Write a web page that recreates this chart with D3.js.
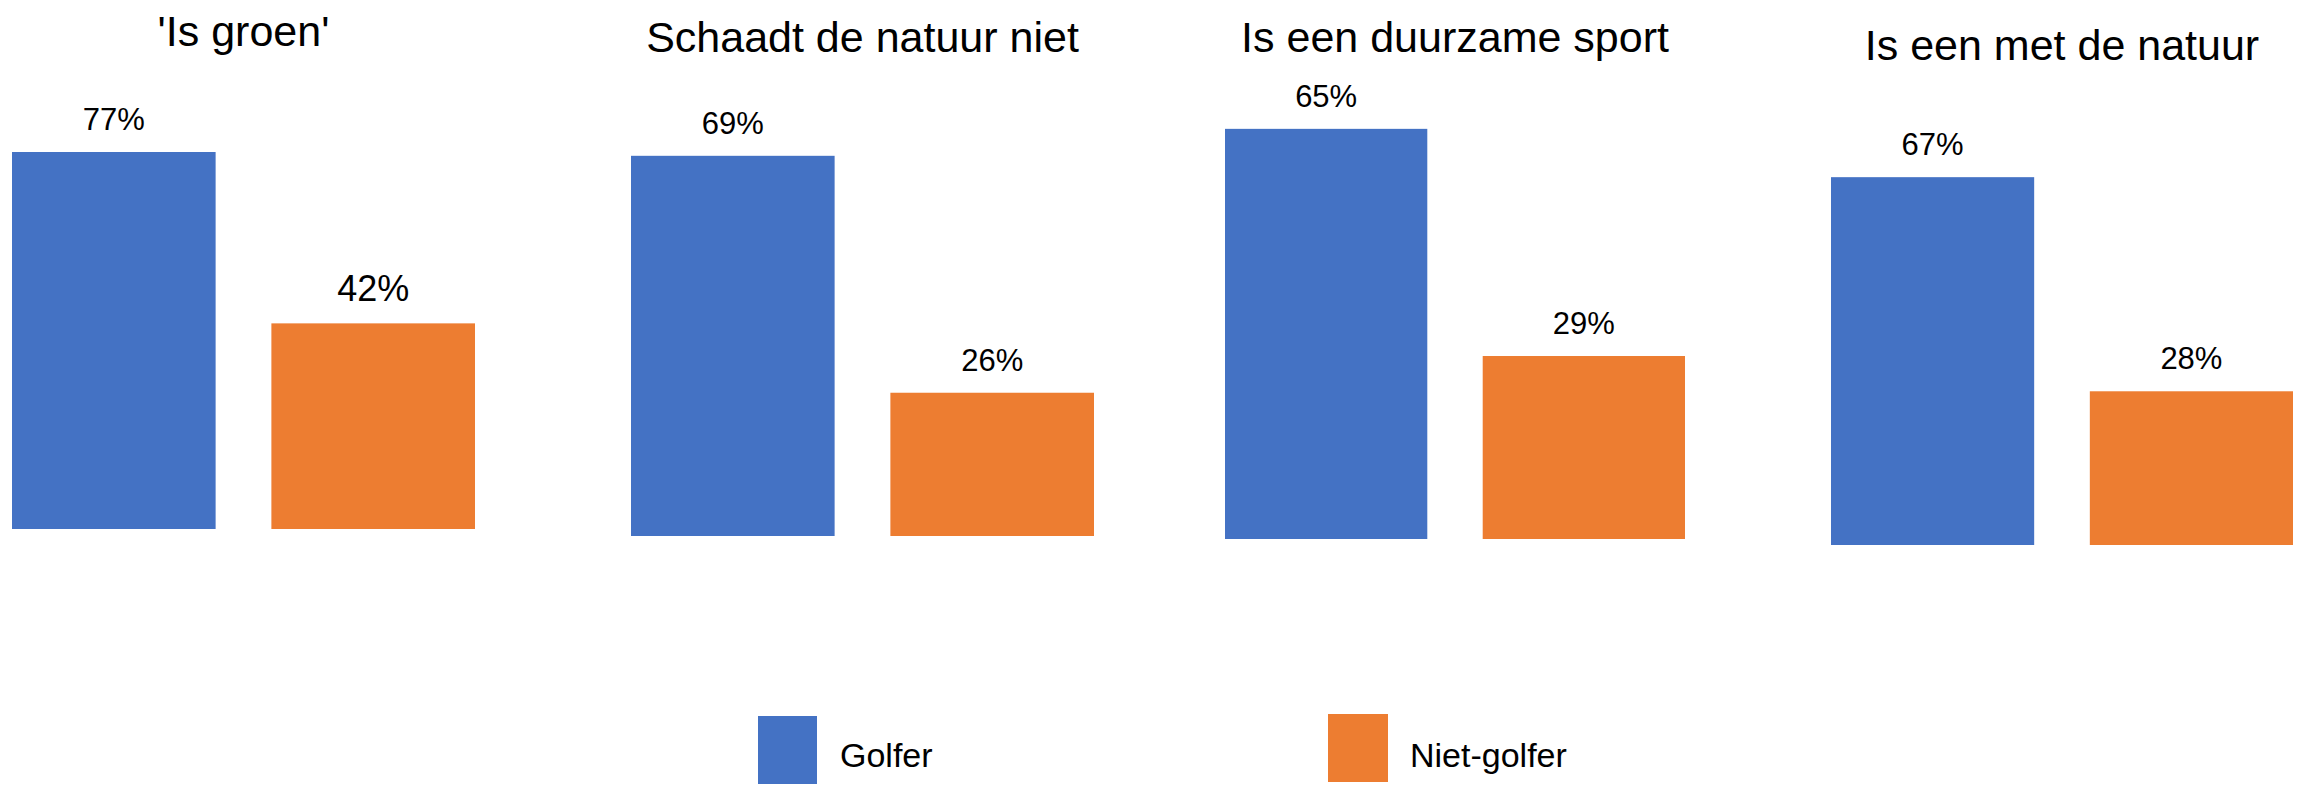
<!DOCTYPE html>
<html>
<head>
<meta charset="utf-8">
<script src="https://cdn.jsdelivr.net/npm/d3@7"></script>
<style>
  html, body { margin: 0; padding: 0; background: #fff; }
  svg { display: block; font-family: 'Liberation Sans', Arial, sans-serif; }
</style>
</head>
<body>
<div id="chart"></div>
<script>
// data
const titles = ["'Is groen'", "Schaadt de natuur niet", "Is een duurzame sport", "Is een met de natuur"];
const series = ["Golfer", "Niet-golfer"];
const golfer = [77, 69, 65, 67];
const nietGolfer = [42, 26, 29, 28];

const width = 2297;
const height = 785;
const colors = ['#4472C4', '#ED7D31'];

// every panel is its own little chart with its own scale
const panelLayout = [
  { x0: 12, x1: 475, bottom: 529, pxPerPct: 4.896, titleY: 46, labelSize: [31, 36] },
  { x0: 631, x1: 1094, bottom: 536, pxPerPct: 5.51, titleY: 52, labelSize: [31, 31] },
  { x0: 1225, x1: 1685, bottom: 539, pxPerPct: 6.31, titleY: 52, labelSize: [31, 31] },
  { x0: 1831, x1: 2293, bottom: 545, pxPerPct: 5.49, titleY: 60, labelSize: [31, 31] }
];

const colorScale = d3.scaleOrdinal().domain(series).range(colors);

const svg = d3.select('#chart')
  .append('svg')
  .attr('width', width)
  .attr('height', height)
  .attr('viewBox', [0, 0, width, height]);

titles.forEach((title, i) => {
  const lay = panelLayout[i];
  const values = [golfer[i], nietGolfer[i]];

  const xScale = d3.scaleBand()
    .domain(series)
    .range([lay.x0, lay.x1])
    .paddingInner(0.215)
    .paddingOuter(0);

  const yScale = d3.scaleLinear()
    .domain([0, 100])
    .range([lay.bottom, lay.bottom - 100 * lay.pxPerPct]);

  const g = svg.append('g').attr('class', 'panel');

  g.append('text')
    .attr('class', 'panel-title')
    .attr('x', (lay.x0 + lay.x1) / 2)
    .attr('y', lay.titleY)
    .attr('text-anchor', 'middle')
    .style('font-size', '43px')
    .attr('fill', '#000')
    .text(title);

  g.selectAll('rect')
    .data(values)
    .join('rect')
    .attr('x', (d, j) => xScale(series[j]))
    .attr('y', d => yScale(d))
    .attr('width', xScale.bandwidth())
    .attr('height', d => yScale(0) - yScale(d))
    .attr('fill', (d, j) => colorScale(series[j]));

  g.selectAll('.bar-label')
    .data(values)
    .join('text')
    .attr('class', 'bar-label')
    .attr('x', (d, j) => xScale(series[j]) + xScale.bandwidth() / 2)
    .attr('y', d => yScale(d) - 22)
    .attr('text-anchor', 'middle')
    .style('font-size', (d, j) => lay.labelSize[j] + 'px')
    .attr('fill', '#000')
    .text(d => d + '%');
});

// legend at the bottom
const legendPos = [
  { x: 758, y: 716, w: 59, h: 68, textX: 840 },
  { x: 1328, y: 714, w: 60, h: 68, textX: 1410 }
];

const legend = svg.append('g').attr('class', 'legend');

const legendItems = legend.selectAll('.legend-item')
  .data(series)
  .join('g')
  .attr('class', 'legend-item');

legendItems.append('rect')
  .attr('x', (d, i) => legendPos[i].x)
  .attr('y', (d, i) => legendPos[i].y)
  .attr('width', (d, i) => legendPos[i].w)
  .attr('height', (d, i) => legendPos[i].h)
  .attr('fill', d => colorScale(d));

legendItems.append('text')
  .attr('x', (d, i) => legendPos[i].textX)
  .attr('y', 767)
  .style('font-size', '34px')
  .attr('fill', '#000')
  .text(d => d);
</script>
</body>
</html>
